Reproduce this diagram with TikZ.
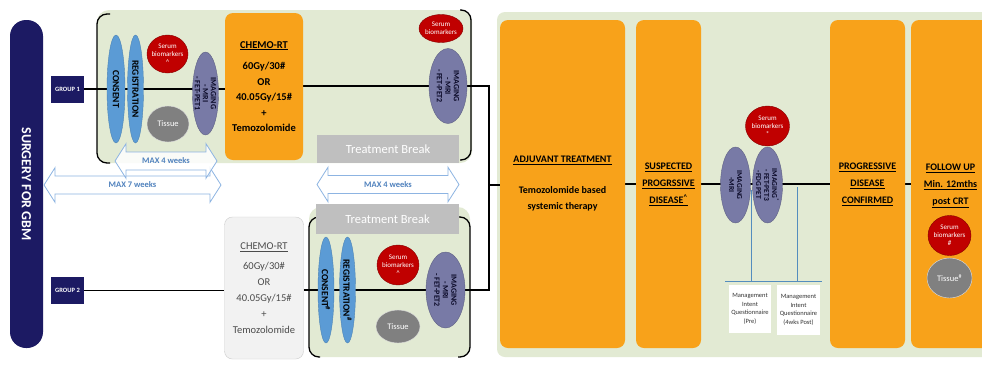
\documentclass[tikz,border=0pt]{standalone}
\usepackage{fontspec}
\setmainfont{Carlito}
\usetikzlibrary{shapes.geometric,shapes.arrows,positioning,calc}
\definecolor{gbmnavy}{RGB}{28,26,99}
\definecolor{panelgreen}{RGB}{226,234,211}
\definecolor{rtorange}{RGB}{248,162,26}
\definecolor{consentblue}{RGB}{91,155,213}
\definecolor{serumred}{RGB}{192,0,0}
\definecolor{tissuegrey}{RGB}{128,128,128}
\definecolor{imgslate}{RGB}{120,122,166}
\definecolor{breakgrey}{RGB}{191,191,191}
\definecolor{weekline}{RGB}{141,180,226}
\definecolor{weektext}{RGB}{79,129,189}
\definecolor{qblue}{RGB}{84,141,190}
\pgfdeclarelayer{panels}
\pgfdeclarelayer{wires}
\pgfsetlayers{panels,wires,main}
\tikzset{
  surgerybar/.style={fill=gbmnavy, text=white, rotate=-90, rounded corners=16pt,
    font=\fontsize{14}{15}\selectfont\bfseries, inner sep=0pt},
  groupbox/.style={fill=gbmnavy, text=white, minimum width=33, minimum height=27,
    inner sep=0pt, font=\fontsize{6.5}{7}\selectfont\bfseries},
  oval/.style={ellipse, inner sep=-4pt, align=center},
  consentoval/.style={oval, fill=consentblue, draw=consentblue!85!black, rotate=-90,
    font=\fontsize{9.5}{10}\selectfont\bfseries},
  serumoval/.style={oval, fill=serumred, draw=serumred!70!black, text=white,
    font=\fontsize{7}{8}\selectfont},
  tissueoval/.style={oval, fill=tissuegrey, draw=white!75!gray, text=white,
    font=\fontsize{8.5}{9}\selectfont},
  imgoval/.style={oval, fill=imgslate, draw=imgslate!80!black, rotate=-90,
    text=gbmnavy!40!black, font=\fontsize{7.5}{8}\selectfont\bfseries},
  rtbox/.style={fill=rtorange, rounded corners=8pt, inner sep=2pt, align=center,
    font=\fontsize{10.5}{15.5}\selectfont\bfseries},
  chemoplain/.style={fill=black!5, draw=black!20, rounded corners=8pt, inner sep=2pt,
    align=center, text=black!70, font=\fontsize{10.5}{16}\selectfont},
  stagebox/.style={rtbox, font=\fontsize{10}{17}\selectfont\bfseries},
  breakbox/.style={fill=breakgrey, text=white, inner sep=0pt,
    font=\fontsize{12.5}{13}\selectfont},
  weekarrow/.style={double arrow, draw=weekline, thick, fill=white, fill opacity=0.85,
    text opacity=1, text=weektext, double arrow head extend=8.5pt,
    double arrow tip angle=115, inner ysep=5.5pt, inner xsep=2pt,
    font=\fontsize{8.5}{9}\selectfont\bfseries},
  quest/.style={fill=white, inner sep=1pt, align=center, text=black!80,
    font=\fontsize{6.5}{8.5}\selectfont},
  bracket/.style={draw=black, line width=1.3pt, rounded corners=10pt},
  wire/.style={draw=black, line width=1.1pt},
  qwire/.style={draw=qblue, line width=0.9pt}
}
\begin{document}
\begin{tikzpicture}[x=1pt, y=-1pt]
  \useasboundingbox (0,0) rectangle (982,365);
  \clip (0,0) rectangle (982,365);

  % panels behind everything
  \begin{pgfonlayer}{panels}
    \fill[white] (0,0) rectangle (982,365);
    \fill[panelgreen, rounded corners=12pt] (97,10) rectangle (472,163);
    \draw[bracket] (110,14) -- (97,14) -- (97,163) -- (110,163);
    \draw[bracket] (460,10) -- (471,10) -- (471,160) -- (460,160);
    \fill[panelgreen, rounded corners=12pt] (309,207) rectangle (470,357);
    \draw[bracket] (320,217) -- (309,217) -- (309,357) -- (320,357);
    \draw[bracket] (458,217) -- (470,217) -- (470,357) -- (458,357);
    \fill[panelgreen, rounded corners=8pt] (497,12) rectangle (995,357);
  \end{pgfonlayer}

  % surgery and groups
  \node[surgerybar, minimum width=328, minimum height=33] (surgery) at (26.5,184) {SURGERY FOR GBM};
  \node[groupbox] (g1) at (67.5,89) {GROUP 1};
  \node[groupbox] (g2) at (67.5,290.5) {GROUP 2};

  % group 1
  \node[consentoval, minimum width=108, minimum height=18] (consent1) at (116,89) {CONSENT};
  \node[consentoval, minimum width=108, minimum height=16] (reg1) at (135.5,89) {REGISTRATION};
  \node[serumoval, minimum width=41, minimum height=38] (serum1) at (167.5,54) {Serum\\biomarkers\\\textasciicircum};
  \node[tissueoval, minimum width=42, minimum height=36] (tissue1) at (168,124) {Tissue};
  \node[imgoval, minimum width=83, minimum height=26, font=\fontsize{8}{8}\selectfont\bfseries] (img1) at (205.5,93.5) {IMAGING\\- MRI\\- FET-PET1};
  \node[rtbox, minimum width=78, minimum height=147] (chemo1) at (264,86.5)
    {\underline{CHEMO-RT}\\[6pt]60Gy/30\#\\OR\\40.05Gy/15\#\\+\\Temozolomide};
  \node[serumoval, minimum width=44, minimum height=28] (serum2) at (441,28.5) {Serum\\biomarkers};
  \node[imgoval, minimum width=75, minimum height=38, font=\fontsize{8}{8.5}\selectfont\bfseries] (img2a) at (448,86) {IMAGING\\- MRI\\- FET-PET2};

  % breaks and time windows
  \node[breakbox, minimum width=142, minimum height=28] (break1) at (388,149) {Treatment Break};
  \node[breakbox, minimum width=143, minimum height=30] (break2) at (387.5,219) {Treatment Break};
  \node[weekarrow, minimum height=177] (wk7) at (132.5,185) {MAX 7 weeks};
  \node[weekarrow, minimum height=102] (wk4a) at (166,161) {MAX 4 weeks};
  \node[weekarrow, minimum height=142] (wk4b) at (388,184.5) {MAX 4 weeks};

  % group 2
  \node[chemoplain, minimum width=79, minimum height=142] (chemo2) at (264,288)
    {\underline{CHEMO-RT}\\[4pt]60Gy/30\#\\OR\\40.05Gy/15\#\\+\\Temozolomide};
  \node[consentoval, minimum width=106, minimum height=16] (consent2) at (326,290) {CONSENT\textsuperscript{\#}};
  \node[consentoval, minimum width=106, minimum height=16] (reg2) at (347.5,290) {REGISTRATION\textsuperscript{\#}};
  \node[serumoval, minimum width=42, minimum height=40] (serum3) at (398,265) {Serum\\biomarkers\\\textasciicircum};
  \node[tissueoval, minimum width=44, minimum height=33] (tissue2) at (398,326.5) {Tissue};
  \node[imgoval, minimum width=76, minimum height=39, font=\fontsize{8}{8.5}\selectfont\bfseries] (img2b) at (445.5,290) {IMAGING\\- MRI\\- FET-PET2};

  % adjuvant phase
  \node[stagebox, minimum width=125, minimum height=328] (adj) at (562.5,184)
    {\underline{ADJUVANT TREATMENT}\\[14pt]Temozolomide based\\[-1pt]systemic therapy};
  \node[stagebox, minimum width=65, minimum height=328] (susp) at (668.5,184)
    {\underline{SUSPECTED}\\\underline{PROGRSSIVE}\\\underline{DISEASE\textsuperscript{\textasciicircum}}};
  \node[imgoval, minimum width=76, minimum height=30] (mri3) at (735.5,185) {IMAGING\\-MRI};
  \node[imgoval, minimum width=76, minimum height=30] (pet3) at (767.5,185) {IMAGING\textsuperscript{*}\\- FET-PET3\\-FDG PET};
  \node[serumoval, minimum width=44, minimum height=40] (serum4) at (767.5,126) {Serum\\biomarkers\\*};
  \node[quest, minimum width=42, minimum height=48] (q1) at (750,309) {Management\\Intent\\Questionnaire\\(Pre)};
  \node[quest, minimum width=43, minimum height=50] (q2) at (798.5,310) {Management\\Intent\\Questionnaire\\(4wks Post)};
  \node[stagebox, minimum width=75, minimum height=328] (prog) at (867.5,184)
    {\underline{PROGRESSIVE}\\\underline{DISEASE}\\\underline{CONFIRMED}};
  \node[stagebox, minimum width=79, minimum height=328, text depth=0pt] (fup) at (950.5,184)
    {\underline{FOLLOW UP}\\\underline{Min. 12mths}\\\underline{post CRT}};
  \node[serumoval, minimum width=43, minimum height=40] (serum5) at (949.5,235.5) {Serum\\biomarkers\\\#};
  \node[tissueoval, minimum width=45, minimum height=40] (tissue3) at (949.5,278) {Tissue\textsuperscript{\#}};

  % connectors
  \begin{pgfonlayer}{wires}
    \draw[wire] (g1.east) -- (g1.east -| chemo1.west);
    \draw[wire] (chemo1.east |- img2a.center) -- (img2a.center);
    \coordinate (split) at (489,185);
    \draw[wire] (img2a.center) -| (split) |- (img2b.center);
    \draw[wire] (split) -- (split -| adj.west);
    \draw[wire] (g2.east) -- (g2.east -| chemo2.west);
    \draw[wire] (chemo2.east |- img2b.center) -- (img2b.center);
    \draw[wire] (adj.east) -- (susp.west);
    \draw[wire] (susp.east) -- (prog.west);
    \draw[wire] (prog.east) -- (fup.west);
    \coordinate (tapA) at (751,190);
    \coordinate (tapB) at (797,187);
    \coordinate (barL) at (725,281);
    \coordinate (barR) at (822,281);
    \draw[qwire] (barL) -- (barR);
    \draw[qwire] (tapA) -- (tapA |- barL);
    \draw[qwire] (tapB) -- (tapB |- barL);
  \end{pgfonlayer}
\end{tikzpicture}
\end{document}
